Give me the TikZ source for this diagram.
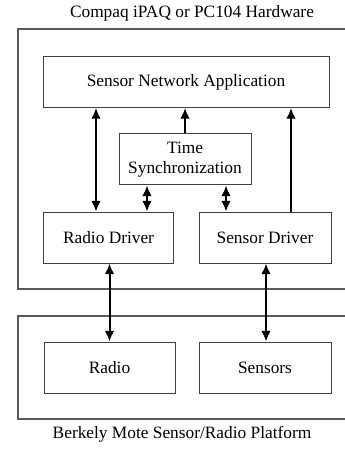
\documentclass[tikz,border=0pt]{standalone}
\usepackage{fontspec}
\setmainfont{Liberation Serif}
\usetikzlibrary{arrows.meta,positioning,calc}

\begin{document}
\begin{tikzpicture}[
    x=0.6pt, y=-0.6pt,
    font=\fontsize{10.4}{11.8}\selectfont,
    unitbox/.style={draw=black!75, line width=0.6pt, minimum height=30.6pt, align=center, inner sep=0pt},
    framebox/.style={draw=black!65, line width=0.7pt},
    link/.style={-{Latex[length=6.4pt,width=5.8pt]}, line width=1.2pt},
    duplex/.style={{Latex[length=6.4pt,width=5.8pt]}-{Latex[length=6.4pt,width=5.8pt]}, line width=1.2pt}
]
    \useasboundingbox (0,0) rectangle (344,451);

    % Rahmen: Host und Mote (rechts abgeschnitten)
    \draw[framebox] (18,29) rectangle (360,289);
    \draw[framebox] (18,316) rectangle (360,419);
    \node (hosttitle) at (192,13) {Compaq iPAQ or PC104 Hardware};
    \node (motetitle) at (182,434) {Berkely Mote Sensor/Radio Platform};

    % Software auf dem Host
    \node[unitbox, minimum width=171.6pt] (app) at (186,82) {Sensor Network Application};
    \node[unitbox, minimum width=79.2pt, minimum height=30.6pt] (sync) at (185,159.5) {Time\\Synchronization};
    \node[unitbox, minimum width=78pt] (rdrv) at (108.5,237.5) {Radio Driver};
    \node[unitbox, minimum width=79.2pt] (sdrv) at (265,237.5) {Sensor Driver};

    % Hardware der Mote
    \node[unitbox, minimum width=78.6pt] (radio) at (109.5,367.5) {Radio};
    \node[unitbox, minimum width=79.2pt] (sens) at (265,367.5) {Sensors};

    % Verbindungen
    \draw[duplex] ([xshift=-7.5pt]rdrv.north) -- ([xshift=-7.5pt]rdrv.north |- app.south);
    \draw[link] (sync.north) -- (sync.north |- app.south);
    \draw[link] ([xshift=15.6pt]sdrv.north) -- ([xshift=15.6pt]sdrv.north |- app.south);
    \draw[duplex] ([xshift=-22.8pt]sync.south) -- ([xshift=-22.8pt]sync.south |- rdrv.north);
    \draw[duplex] ([xshift=24.6pt]sync.south) -- ([xshift=24.6pt]sync.south |- sdrv.north);
    \draw[duplex] ([xshift=0.6pt]rdrv.south) -- ([xshift=0.6pt]rdrv.south |- radio.north);
    \draw[duplex] ([xshift=0.6pt]sdrv.south) -- ([xshift=0.6pt]sdrv.south |- sens.north);

\end{tikzpicture}
\end{document}
